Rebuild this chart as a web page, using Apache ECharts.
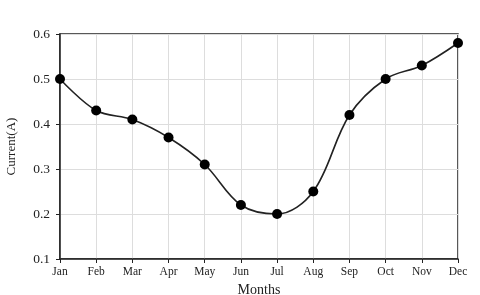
<!DOCTYPE html>
<html><head><meta charset="utf-8">
<script src="https://cdn.jsdelivr.net/npm/echarts@6/dist/echarts.min.js"></script>
<style>html,body{margin:0;padding:0;background:#fff}#c{width:480px;height:295px}</style>
</head><body><div id="c"></div>
<script>
var months = ['Jan','Feb','Mar','Apr','May','Jun','Jul','Aug','Sep','Oct','Nov','Dec'];
var current = [0.50,0.43,0.41,0.37,0.31,0.22,0.20,0.25,0.42,0.50,0.53,0.58];
var yTicks = [0.1,0.2,0.3,0.4,0.5,0.6];
var chart = echarts.init(document.getElementById('c'));
var font = 'Liberation Serif';
chart.setOption({
  animation:false,
  grid:{left:60,right:22,top:34,bottom:36,show:true,borderColor:'#222',borderWidth:1.5,
    outerBoundsMode:'none',containLabel:false},
  xAxis:{type:'category',data:months,boundaryGap:false,
    name:'Months',nameLocation:'middle',nameGap:17,
    nameTextStyle:{fontFamily:font,fontSize:14,color:'#222'},
    axisLine:{lineStyle:{color:'#222',width:1.5}},
    axisTick:{show:true,length:4,lineStyle:{color:'#222'}},
    axisLabel:{fontFamily:font,fontSize:11.5,color:'#222',margin:7},
    splitLine:{show:true,lineStyle:{color:'#ddd',width:1}}},
  yAxis:{type:'value',min:0.1,max:0.6,interval:0.1,
    name:'Current(A)',nameLocation:'middle',nameGap:42,
    nameTextStyle:{fontFamily:font,fontSize:13,color:'#222'},
    axisLine:{show:true,lineStyle:{color:'#222',width:1.5}},
    axisTick:{show:true,length:4,lineStyle:{color:'#222'}},
    axisLabel:{fontFamily:font,fontSize:13.5,color:'#222',margin:10,
      formatter:function(v){return v.toFixed(1);}},
    splitLine:{show:true,lineStyle:{color:'#ddd',width:1}}},
  series:[{type:'line',data:current,smooth:0.35,symbol:'circle',symbolSize:10,
    itemStyle:{color:'#000'},lineStyle:{color:'#222',width:1.6}}]
});
</script></body></html>
